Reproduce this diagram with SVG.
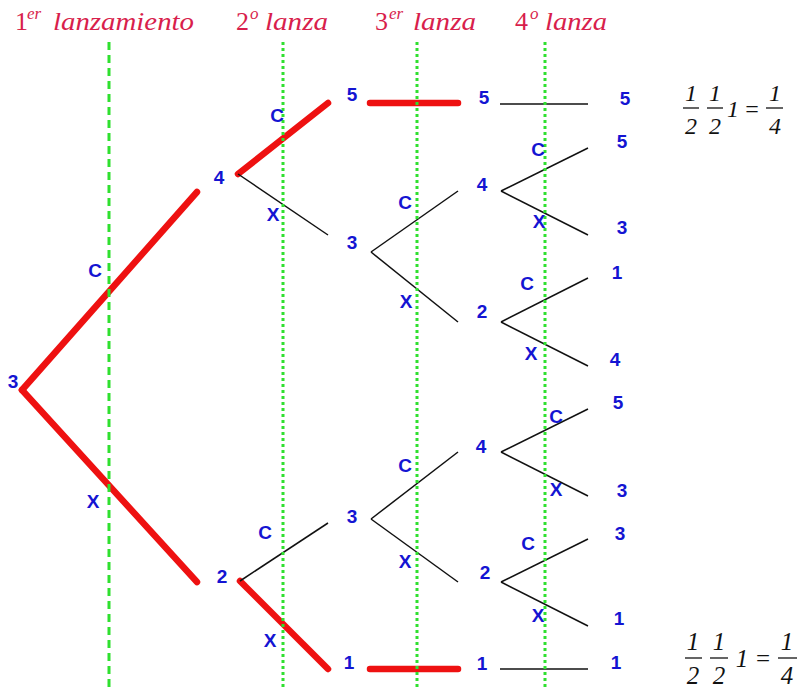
<svg xmlns="http://www.w3.org/2000/svg" width="800" height="689" viewBox="0 0 800 689">
<style>
.hd{font-family:"Liberation Serif","DejaVu Serif",serif;font-style:italic;fill:#d81e4c;font-size:26px}
.hn{font-family:"Liberation Serif","DejaVu Serif",serif;font-style:normal;fill:#d81e4c;font-size:26px}
.sup{font-family:"Liberation Serif","DejaVu Serif",serif;font-style:italic;fill:#d81e4c;font-size:17px}
.lb{font-family:"Liberation Sans",Arial,sans-serif;font-weight:bold;fill:#1414d2;font-size:19px;text-anchor:middle}
.red{stroke:#ee1111;stroke-width:6.5;stroke-linecap:round;fill:none}
.blk{stroke:#111;stroke-width:1.5;fill:none}
.g1{stroke:#2fe02f;stroke-width:3;stroke-dasharray:8 5;fill:none}
.g2{stroke:#2fe02f;stroke-width:3;stroke-dasharray:3 3;fill:none}
.fr{font-family:"Liberation Serif","DejaVu Serif",serif;font-style:italic;fill:#111;font-size:24px;text-anchor:middle}
.fb{font-size:25px}
.bar{stroke:#111;stroke-width:1.3}
</style>
<g id="headers">
<text class="hn" x="15" y="30">1</text><text class="sup" x="27" y="19">er</text><text class="hd" x="53" y="30" textLength="141" lengthAdjust="spacingAndGlyphs">lanzamiento</text>
<text class="hn" x="236" y="30">2</text><text class="sup" x="250" y="19">o</text><text class="hd" x="265" y="30" textLength="63" lengthAdjust="spacingAndGlyphs">lanza</text>
<text class="hn" x="375" y="30">3</text><text class="sup" x="389" y="19">er</text><text class="hd" x="413" y="30" textLength="63" lengthAdjust="spacingAndGlyphs">lanza</text>
<text class="hn" x="515" y="30">4</text><text class="sup" x="530" y="19">o</text><text class="hd" x="545" y="30" textLength="62" lengthAdjust="spacingAndGlyphs">lanza</text>
</g>
<g id="connectors">
<line class="red" x1="22" y1="390" x2="197" y2="192"/>
<line class="red" x1="22" y1="390" x2="197" y2="582"/>
<line class="red" x1="238" y1="174" x2="328" y2="103"/>
<line class="blk" x1="238" y1="174" x2="328" y2="235"/>
<line class="red" x1="240" y1="581" x2="328" y2="669"/>
<line class="blk" x1="240" y1="581" x2="328" y2="523"/>
<line class="red" x1="370" y1="103" x2="458" y2="103"/>
<line class="red" x1="370" y1="669" x2="458" y2="669"/>
<line class="blk" x1="371" y1="252" x2="458" y2="191"/>
<line class="blk" x1="371" y1="252" x2="458" y2="322"/>
<line class="blk" x1="371" y1="519" x2="458" y2="452"/>
<line class="blk" x1="371" y1="519" x2="458" y2="582"/>
<line class="blk" x1="500" y1="104" x2="588" y2="104"/>
<line class="blk" x1="500" y1="669" x2="588" y2="669"/>
<line class="blk" x1="501" y1="191" x2="588" y2="148"/>
<line class="blk" x1="501" y1="191" x2="588" y2="235"/>
<line class="blk" x1="501" y1="322" x2="588" y2="278"/>
<line class="blk" x1="501" y1="322" x2="588" y2="366"/>
<line class="blk" x1="501" y1="452" x2="588" y2="409"/>
<line class="blk" x1="501" y1="452" x2="588" y2="496"/>
<line class="blk" x1="501" y1="582" x2="588" y2="539"/>
<line class="blk" x1="501" y1="582" x2="588" y2="626"/>
</g>
<g id="guides">
<line class="g1" x1="109" y1="42" x2="109" y2="689"/>
<line class="g2" x1="283" y1="42" x2="283" y2="689"/>
<line class="g2" x1="417" y1="42" x2="417" y2="689"/>
<line class="g2" x1="545" y1="42" x2="545" y2="689"/>
</g>
<g id="node-root"><text class="lb" x="13" y="388">3</text></g>
<g id="node-1-4"><text class="lb" x="219" y="184">4</text></g>
<g id="node-1-2"><text class="lb" x="222" y="583">2</text></g>
<g id="node-2-5"><text class="lb" x="352" y="101">5</text></g>
<g id="node-2-3"><text class="lb" x="352" y="249">3</text></g>
<g id="node-2-3b"><text class="lb" x="352" y="523">3</text></g>
<g id="node-2-1"><text class="lb" x="349" y="669">1</text></g>
<g id="node-3-5"><text class="lb" x="484" y="104">5</text></g>
<g id="node-3-4"><text class="lb" x="482" y="191">4</text></g>
<g id="node-3-2"><text class="lb" x="482" y="318">2</text></g>
<g id="node-3-4b"><text class="lb" x="481" y="453">4</text></g>
<g id="node-3-2b"><text class="lb" x="485" y="579">2</text></g>
<g id="node-3-1"><text class="lb" x="482" y="670">1</text></g>
<g id="node-4-5a"><text class="lb" x="625" y="105">5</text></g>
<g id="node-4-5b"><text class="lb" x="622" y="148">5</text></g>
<g id="node-4-3a"><text class="lb" x="622" y="234">3</text></g>
<g id="node-4-1a"><text class="lb" x="617" y="279">1</text></g>
<g id="node-4-4"><text class="lb" x="615" y="366">4</text></g>
<g id="node-4-5c"><text class="lb" x="618" y="409">5</text></g>
<g id="node-4-3b"><text class="lb" x="622" y="497">3</text></g>
<g id="node-4-3c"><text class="lb" x="620" y="540">3</text></g>
<g id="node-4-1b"><text class="lb" x="619" y="625">1</text></g>
<g id="node-4-1c"><text class="lb" x="616" y="669">1</text></g>
<g id="edge-labels">
<text class="lb" x="95" y="277">C</text>
<text class="lb" x="93" y="508">X</text>
<text class="lb" x="277" y="122">C</text>
<text class="lb" x="273" y="221">X</text>
<text class="lb" x="265" y="539">C</text>
<text class="lb" x="270" y="647">X</text>
<text class="lb" x="405" y="209">C</text>
<text class="lb" x="406" y="308">X</text>
<text class="lb" x="405" y="472">C</text>
<text class="lb" x="405" y="568">X</text>
<text class="lb" x="538" y="156">C</text>
<text class="lb" x="539" y="228">X</text>
<text class="lb" x="527" y="290">C</text>
<text class="lb" x="531" y="360">X</text>
<text class="lb" x="556" y="423">C</text>
<text class="lb" x="556" y="496">X</text>
<text class="lb" x="528" y="550">C</text>
<text class="lb" x="538" y="622">X</text>
</g>
<g id="prob-top">
<text class="fr" x="691" y="101">1</text><line class="bar" x1="683" y1="108" x2="699" y2="108"/><text class="fr" x="691" y="134">2</text>
<text class="fr" x="715" y="101">1</text><line class="bar" x1="707" y1="108" x2="723" y2="108"/><text class="fr" x="715" y="134">2</text>
<text class="fr" x="733" y="117">1</text>
<text class="fr" x="752" y="117" style="font-style:normal">=</text>
<text class="fr" x="775" y="101">1</text><line class="bar" x1="766" y1="108" x2="783" y2="108"/><text class="fr" x="775" y="134">4</text>
</g>
<g id="prob-bottom">
<text class="fr fb" x="693" y="650">1</text><line class="bar" x1="685" y1="658" x2="702" y2="658"/><text class="fr fb" x="693" y="684">2</text>
<text class="fr fb" x="719" y="650">1</text><line class="bar" x1="710" y1="658" x2="728" y2="658"/><text class="fr fb" x="719" y="684">2</text>
<text class="fr fb" x="742" y="667">1</text>
<text class="fr fb" x="763" y="667" style="font-style:normal">=</text>
<text class="fr fb" x="787" y="650">1</text><line class="bar" x1="778" y1="658" x2="797" y2="658"/><text class="fr fb" x="787" y="684">4</text>
</g>
</svg>
